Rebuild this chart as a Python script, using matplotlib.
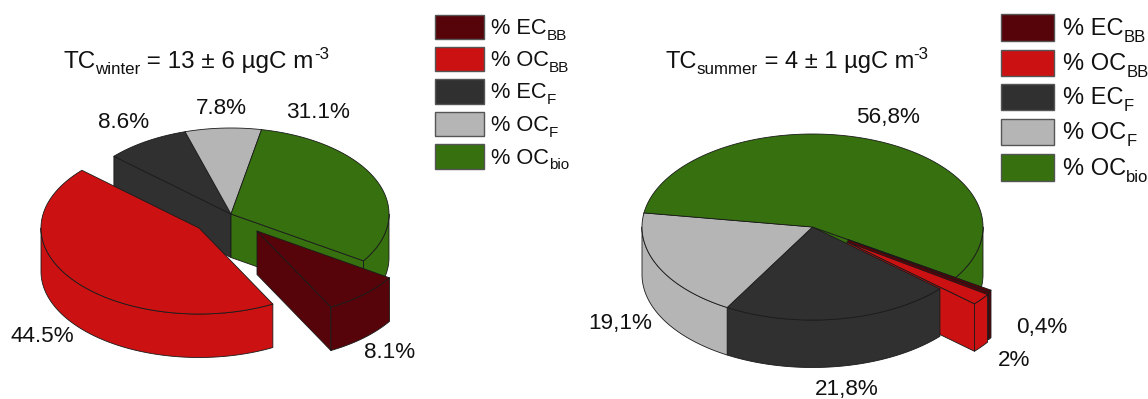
import numpy as np
import matplotlib
matplotlib.use("Agg")
import matplotlib.pyplot as plt
from matplotlib.patches import Polygon, Rectangle

plt.rcParams['font.family'] = ['Liberation Sans', 'DejaVu Sans']

# Shares run clockwise in this order on both pies
categories = [('EC', 'BB'), ('OC', 'BB'), ('EC', 'F'), ('OC', 'F'), ('OC', 'bio')]
colors = ['#56040a', '#cb1111', '#303030', '#b5b5b5', '#36700f']
winter_values = [8.1, 44.5, 8.6, 7.8, 31.1]
summer_values = [0.4, 2, 21.8, 19.1, 56.8]

EDGE = '#1a1a1a'
LW = 0.6
TEXT = '#111111'


def point(cx, cy, rx, ry, angle):
    # angle in degrees, clockwise from the top of the ellipse
    t = np.radians(angle)
    return np.column_stack([cx + rx * np.sin(t), cy - ry * np.cos(t)])


def add_poly(ax, pts, color):
    ax.add_patch(Polygon(pts, closed=True, facecolor=color, edgecolor=EDGE, lw=LW, joinstyle='round'))


def draw_top(ax, c, rx, ry, a, b, color):
    arc = point(c[0], c[1], rx, ry, np.linspace(a, b, 120))
    add_poly(ax, np.vstack([c, arc]), color)


def draw_outer_wall(ax, c, rx, ry, depth, a, b, color):
    # only the front half of the rim can be seen
    for k in (0, 1):
        lo = max(a, 90 + 360 * k)
        hi = min(b, 270 + 360 * k)
        if hi <= lo:
            continue
        arc = point(c[0], c[1], rx, ry, np.linspace(lo, hi, 120))
        add_poly(ax, np.vstack([arc, arc[::-1] + [0, depth]]), color)


def draw_cut_wall(ax, c, rx, ry, depth, angle, color):
    edge = point(c[0], c[1], rx, ry, np.array([angle]))[0]
    add_poly(ax, [c, edge, edge + [0, depth], np.array(c) + [0, depth]], color)


def draw_walls(ax, c, rx, ry, depth, a, b, color, cut):
    if cut and np.sin(np.radians(a)) < 0:
        draw_cut_wall(ax, c, rx, ry, depth, a, color)
    if cut and np.sin(np.radians(b)) > 0:
        draw_cut_wall(ax, c, rx, ry, depth, b, color)
    draw_outer_wall(ax, c, rx, ry, depth, a, b, color)


def pie3d(ax, values, center, rx, ry, depth, offsets, start=123, walls_behind=False):
    shares = np.array(values) / np.sum(values) * 360
    ends = start + np.cumsum(shares)
    starts = ends - shares
    n = len(values)
    body = [i for i in range(n) if i not in offsets]
    pulled = [i for i in range(n) if i in offsets]
    centers = {i: np.array(center, float) + offsets.get(i, (0, 0)) for i in range(n)}
    mids = (starts + ends) / 2 % 360
    back = [i for i in body if mids[i] < 90 or mids[i] > 270]
    front = [i for i in body if i not in back]

    def walls(i):
        cut = i in offsets or (i + 1) % n in offsets or (i - 1) % n in offsets
        draw_walls(ax, centers[i], rx, ry, depth, starts[i], ends[i], colors[i], cut)

    for i in back:
        walls(i)
    if walls_behind:
        # thin pulled slices tuck in behind the front of the body
        for i in pulled:
            walls(i)
    for i in front:
        walls(i)
    for i in body:
        draw_top(ax, centers[i], rx, ry, starts[i], ends[i], colors[i])
    for i in pulled[::-1]:
        if not walls_behind:
            walls(i)
    for i in pulled:
        draw_top(ax, centers[i], rx, ry, starts[i], ends[i], colors[i])


def text_runs(ax, x, y, runs):
    # runs of (text, size, baseline shift), set one after the other
    renderer = ax.figure.canvas.get_renderer()
    for s, size, shift in runs:
        t = ax.text(x, y + shift, s, fontsize=size, va='baseline', ha='left', color=TEXT)
        bbox = t.get_window_extent(renderer)
        adv = t.get_fontproperties().get_size_in_points() * 100 / 72
        # trailing spaces are not in the box, add them by hand
        trailing = len(s) - len(s.rstrip(' '))
        x = bbox.x1 + trailing * 0.278 * adv


def legend(ax, x0, x1, rows, text_x, size, sub_size):
    for (y0, y1), color, (name, sub) in zip(rows, colors, categories):
        ax.add_patch(Rectangle((x0, y0), x1 - x0, y1 - y0, facecolor=color, edgecolor='#555555', lw=1.0))
        text_runs(ax, text_x, y0 + (y1 - y0) * 0.78, [('% ' + name, size, 0), (sub, sub_size, size * 0.38)])


fig = plt.figure(figsize=(11.48, 3.99), dpi=100)
ax = fig.add_axes([0, 0, 1, 1])
ax.set_xlim(0, 1148)
ax.set_ylim(399, 0)
ax.axis('off')

# Winter: EC_BB and OC_BB pulled out of the pie
pie3d(ax, winter_values, (231, 214), 158, 86, 43.5, {0: (26, 17), 1: (-32, 14)})
# Summer: the two thin slices sit in the gap, partly behind the EC_F slice
pie3d(ax, summer_values, (812.5, 227), 170.5, 93, 47.5, {0: (35.5, 12.5), 1: (34.5, 15)}, walls_behind=True)

legend(ax, 435, 484, [(15, 39), (47, 71), (79, 104), (112, 136), (144, 169)], 491, 15.7, 11)
legend(ax, 1001, 1054, [(14, 41), (50, 76), (84, 110), (119, 145), (154, 181)], 1063, 17, 12)

text_runs(ax, 63, 68, [('TC', 17.5, 0), ('winter', 12.2, 6), (' = 13 ± 6 µgC m', 17.5, 0), ('-3', 12.2, -9)])
text_runs(ax, 665, 68, [('TC', 17, 0), ('summer', 12.2, 6), (' = 4 ± 1 µgC m', 17, 0), ('-3', 12.2, -9)])

winter_pos = [(390, 353), (42, 337), (124, 123), (221, 108), (318, 113)]
summer_pos = [(1042, 328), (1014, 360), (847, 389), (620, 324), (888, 117)]
for v, (x, y) in zip(winter_values, winter_pos):
    ax.text(x, y, f'{v}%', fontsize=16.2, ha='center', va='center', color=TEXT)
for v, (x, y) in zip(summer_values, summer_pos):
    ax.text(x, y, f'{v}%'.replace('.', ','), fontsize=16.2, ha='center', va='center', color=TEXT)

fig.savefig('out.png', dpi=100)
